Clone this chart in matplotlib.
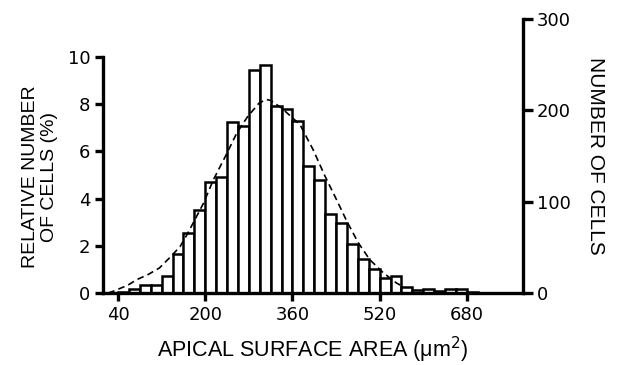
import matplotlib
matplotlib.use("Agg")
import matplotlib.pyplot as plt
import numpy as np

# histogram of apical surface area, bins 20 um2 wide (left edges)
bin_left = [40, 60, 80, 100, 120, 140, 160, 180, 200, 220, 240, 260, 280, 300,
            320, 340, 360, 380, 400, 420, 440, 460, 480, 500, 520, 540, 560,
            580, 600, 620, 640, 660, 680]
pct = [0.04, 0.17, 0.34, 0.35, 0.73, 1.65, 2.54, 3.53, 4.69, 4.9, 7.23, 7.09,
       9.43, 9.65, 7.93, 7.8, 7.27, 5.4, 4.8, 3.36, 2.97, 2.09, 1.45, 1.02,
       0.64, 0.71, 0.24, 0.14, 0.17, 0.07, 0.17, 0.17, 0.05]

# dashed fitted curve
fit_x = [22, 32, 58, 74, 95, 116, 135, 154, 166, 178, 197, 215, 237, 258, 278,
         299, 312, 320, 340, 374, 398, 420, 441, 460, 481, 502, 527, 551, 565]
fit_y = [0.0, 0.08, 0.33, 0.56, 0.78, 1.06, 1.5, 1.97, 2.45, 2.97, 3.81, 4.8,
         5.79, 6.78, 7.48, 8.05, 8.2, 8.16, 7.84, 7.13, 6.07, 4.94, 3.95, 3.03,
         2.12, 1.41, 0.85, 0.42, 0.25]

x_ticks = [40, 200, 360, 520, 680]
pct_ticks = [0, 2, 4, 6, 8, 10]
cell_ticks = [0, 100, 200, 300]
cells_per_pct = 25.85

W, H = 621, 365
fig = plt.figure(figsize=(W / 100, H / 100), dpi=100)
ax = fig.add_axes([103 / W, 1 - 293 / H, 420 / W, (293 - 16.5) / H])

ax.bar(bin_left, pct, width=20, align="edge", facecolor="white",
       edgecolor="black", linewidth=1.8, zorder=2)
ax.plot(fit_x, fit_y, color="black", linestyle=(0, (4, 2.5)), linewidth=1.2,
        zorder=3)

ax.set_xlim(12.5, 783)
ytop = (293 - 16.5) / 23.6
ax.set_ylim(0, ytop)

for s in ["top", "right"]:
    ax.spines[s].set_visible(False)
ax.spines["left"].set_bounds(0, 10)
for s in ["left", "bottom"]:
    ax.spines[s].set_linewidth(2.4)

ax.set_xticks(x_ticks)
ax.set_yticks(pct_ticks)
ax.tick_params(axis="both", direction="out", length=6, width=2.4,
               labelsize=13, pad=3)

ax2 = ax.twinx()
ax2.set_ylim(0, ytop * cells_per_pct)
for s in ["top", "left", "bottom"]:
    ax2.spines[s].set_visible(False)
ax2.spines["right"].set_bounds(0, 300)
ax2.spines["right"].set_linewidth(2.4)
ax2.set_yticks(cell_ticks)
ax2.tick_params(axis="y", direction="out", length=7, width=2.4,
                labelsize=13, pad=3)

lab = dict(family="Liberation Sans")
fig.text(313 / W, 1 - 350 / H, "APICAL SURFACE AREA (\u03bcm$^2$)",
         ha="center", va="center", fontsize=15.5, **lab)
fig.text(40 / W, 1 - 177 / H, "RELATIVE NUMBER\nOF CELLS (%)", rotation=90,
         ha="center", va="center", linespacing=1.1, fontsize=14, **lab)
fig.text(596 / W, 1 - 156 / H, "NUMBER OF CELLS", rotation=-90,
         ha="center", va="center", fontsize=15, **lab)

fig.savefig("out.png", dpi=100)
